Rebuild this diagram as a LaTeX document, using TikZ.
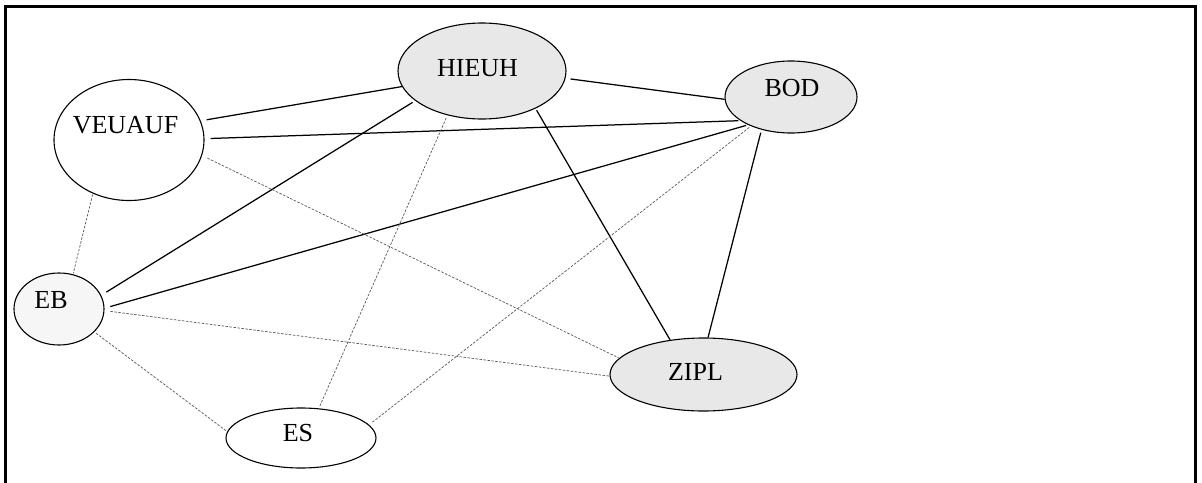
\documentclass[tikz,border=0pt]{standalone}
\usepackage{fontspec}
\setmainfont{Liberation Serif}
\usetikzlibrary{shapes.geometric}
\tikzset{
  ell/.style={ellipse, draw=black, line width=1.1pt, inner sep=0pt},
  lbl/.style={inner sep=0pt, font=\fontsize{26}{30}\selectfont},
  solidedge/.style={line width=1.25pt, black},
  dashedge/.style={line width=0.7pt, black!65, dash pattern=on 2.5pt off 1.5pt},
}
\definecolor{grayfill}{HTML}{E8E8E8}
\definecolor{lightfill}{HTML}{F6F6F6}
\begin{document}
\begin{tikzpicture}[x=1pt,y=-1pt]
\useasboundingbox (0,0) rectangle (1202,482);
\fill[white] (0,0) rectangle (1202,482);
\draw[line width=3pt] (5.3,490) -- (5.3,6.3) -- (1195.7,6.3) -- (1195.7,490);

% nodes (ellipses)
\node[ell, minimum width=150pt, minimum height=121pt] (veuauf) at (129,140) {};
\node[ell, fill=grayfill, minimum width=168pt, minimum height=96pt] (hieuh) at (482,71) {};
\node[ell, fill=grayfill, minimum width=132pt, minimum height=72pt] (bod) at (791,97) {};
\node[ell, fill=lightfill, minimum width=90pt, minimum height=72pt] (eb) at (59,309) {};
\node[ell, minimum width=150pt, minimum height=60pt] (es) at (301,438) {};
\node[ell, fill=grayfill, minimum width=187pt, minimum height=73pt] (zipl) at (703.5,374.5) {};

% labels
\node[lbl] (tveuauf) at (125.5,125) {VEUAUF};
\node[lbl] (thieuh) at (477.5,68) {HIEUH};
\node[lbl] (tbod) at (792,88.5) {BOD};
\node[lbl] (teb) at (51,300.5) {EB};
\node[lbl] (tes) at (298,433.5) {ES};
\node[lbl] (tzipl) at (695.5,372) {ZIPL};

% solid connectors
\draw[solidedge, shorten <=6pt] (veuauf.15) -- (hieuh.191);
\draw[solidedge, shorten <=6pt, shorten >=2pt] (veuauf.1.5) -- (bod.205);
\draw[solidedge, shorten <=5pt] (hieuh.-5.7) -- (bod.182.6);
\draw[solidedge, shorten <=3pt, shorten >=6pt] (hieuh.204.4) -- (eb.18);
\draw[solidedge, shorten <=2pt, shorten >=6pt] (bod.213.7) -- (eb.1.1);
\draw[solidedge, shorten <=2pt] (hieuh.-35.4) -- (zipl.134.2);
\draw[solidedge, shorten <=3pt] (bod.-132) -- (zipl.83.8);

% dashed connectors
\draw[dashedge, shorten <=1pt, shorten >=1pt] (veuauf.236) -- (eb.68.7);
\draw[dashedge, shorten <=6pt] (veuauf.-12.3) -- (zipl.169.5);
\draw[dashedge, shorten <=3pt, shorten >=2pt] (hieuh.232.9) -- (es.59.7);
\draw[dashedge, shorten <=2pt, shorten >=4pt] (bod.216) -- (es.11.1);
\draw[dashedge, shorten <=6pt] (eb.-2.2) -- (zipl.181.2);
\draw[dashedge, shorten <=2pt] (eb.-33.7) -- (es.175.4);
\end{tikzpicture}
\end{document}
